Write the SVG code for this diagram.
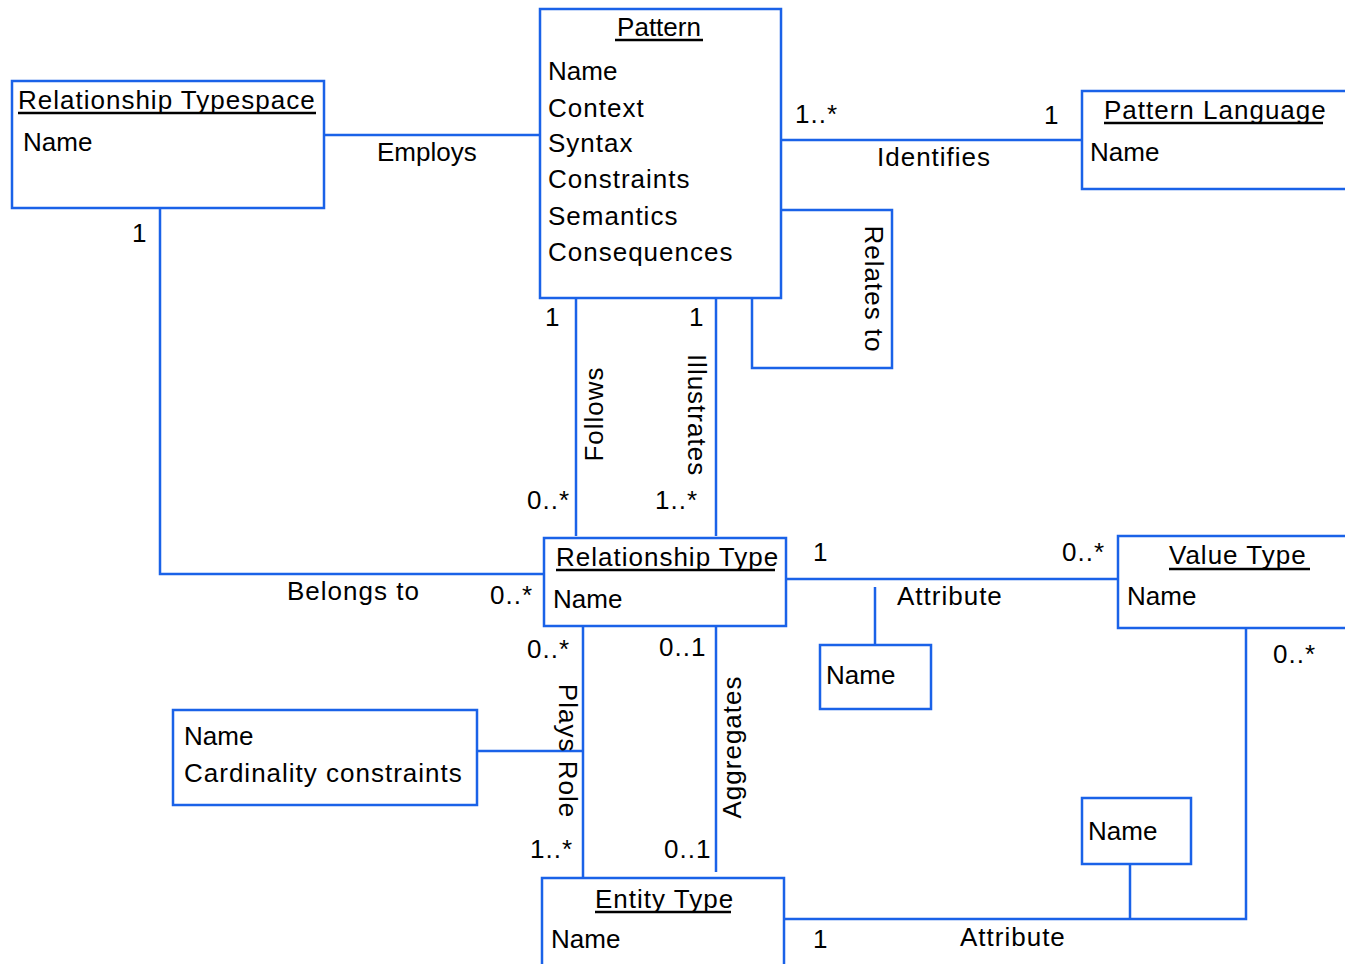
<svg xmlns="http://www.w3.org/2000/svg" width="1345" height="964" viewBox="0 0 1345 964">
<style>
.box{fill:#fff;stroke:#1a62e8;stroke-width:2.5}
.ln{fill:none;stroke:#1a62e8;stroke-width:2.5}
.ul{stroke:#000;stroke-width:2.5}
text{font-family:"Liberation Sans",Arial,sans-serif;font-size:26px;fill:#000;letter-spacing:1px}
text.n{letter-spacing:0}
.m{text-anchor:middle}
</style>
<rect width="1345" height="964" fill="#fff"/>
<g id="connectors">
<line class="ln" x1="318" y1="135" x2="540" y2="135"/>
<line class="ln" x1="781" y1="140" x2="1086" y2="140"/>
<polyline class="ln" points="781,210 892,210 892,368 752,368 752,296"/>
<line class="ln" x1="576" y1="293" x2="576" y2="536"/>
<line class="ln" x1="716" y1="298" x2="716" y2="536"/>
<polyline class="ln" points="160,208 160,574 545,574"/>
<line class="ln" x1="778" y1="579" x2="1122" y2="579"/>
<line class="ln" x1="875" y1="587" x2="875" y2="645"/>
<polyline class="ln" points="1246,623 1246,919 778,919"/>
<line class="ln" x1="1130" y1="864" x2="1130" y2="919"/>
<line class="ln" x1="583" y1="622" x2="583" y2="882"/>
<line class="ln" x1="716" y1="620" x2="716" y2="872"/>
<line class="ln" x1="472" y1="751" x2="583" y2="751"/>
<text x="377" y="161" class="n">Employs</text>
<text x="795" y="123">1..*</text>
<text x="1044" y="124">1</text>
<text x="877" y="166">Identifies</text>
<text transform="translate(865,289) rotate(90)" class="m">Relates to</text>
<text x="545" y="326">1</text>
<text x="689" y="326">1</text>
<text transform="translate(603,414) rotate(-90)" class="m">Follows</text>
<text transform="translate(688,415) rotate(90)" class="m">Illustrates</text>
<text x="527" y="509">0..*</text>
<text x="655" y="509">1..*</text>
<text x="132" y="242">1</text>
<text x="287" y="600">Belongs to</text>
<text x="490" y="604">0..*</text>
<text x="813" y="561">1</text>
<text x="1062" y="561">0..*</text>
<text x="897" y="605">Attribute</text>
<text x="1273" y="663">0..*</text>
<text x="527" y="658">0..*</text>
<text x="659" y="656">0..1</text>
<text transform="translate(559,751) rotate(90)" class="m">Plays Role</text>
<text transform="translate(741,747) rotate(-90)" class="m">Aggregates</text>
<text x="530" y="858">1..*</text>
<text x="664" y="858">0..1</text>
<text x="813" y="948">1</text>
<text x="960" y="946">Attribute</text>
</g>
<g id="pattern">
<rect class="box" x="540" y="9" width="241" height="289"/>
<text x="659" y="36" class="m n">Pattern</text>
<line class="ul" x1="615" y1="40" x2="703" y2="40"/>
<text x="548" y="80" class="n">Name</text>
<text x="548" y="116.5">Context</text>
<text x="548" y="152">Syntax</text>
<text x="548" y="188">Constraints</text>
<text x="548" y="225">Semantics</text>
<text x="548" y="261">Consequences</text>
</g>
<g id="relationship-typespace">
<rect class="box" x="12" y="81" width="312" height="127"/>
<text x="18" y="109">Relationship Typespace</text>
<line class="ul" x1="18" y1="113" x2="316" y2="113"/>
<text x="23" y="151" class="n">Name</text>
</g>
<g id="pattern-language">
<rect class="box" x="1082" y="91" width="280" height="98"/>
<text x="1104" y="119">Pattern Language</text>
<line class="ul" x1="1104" y1="123" x2="1323" y2="123"/>
<text x="1090" y="161" class="n">Name</text>
</g>
<g id="relationship-type">
<rect class="box" x="544" y="538" width="242" height="88"/>
<text x="556" y="566">Relationship Type</text>
<line class="ul" x1="556" y1="570" x2="775" y2="570"/>
<text x="553" y="608" class="n">Name</text>
</g>
<g id="attr-name-rt">
<rect class="box" x="820" y="645" width="111" height="64"/>
<text x="826" y="684" class="n">Name</text>
</g>
<g id="value-type">
<rect class="box" x="1118" y="536" width="240" height="92"/>
<text x="1169" y="564">Value Type</text>
<line class="ul" x1="1169" y1="569" x2="1310" y2="569"/>
<text x="1127" y="605" class="n">Name</text>
</g>
<g id="role">
<rect class="box" x="173" y="710" width="304" height="95"/>
<text x="184" y="745" class="n">Name</text>
<text x="184" y="782">Cardinality constraints</text>
</g>
<g id="attr-name-vt">
<rect class="box" x="1082" y="798" width="109" height="66"/>
<text x="1088" y="840" class="n">Name</text>
</g>
<g id="entity-type">
<rect class="box" x="542" y="878" width="242" height="100"/>
<text x="595" y="908">Entity Type</text>
<line class="ul" x1="595" y1="912" x2="731" y2="912"/>
<text x="551" y="948" class="n">Name</text>
</g>
</svg>
